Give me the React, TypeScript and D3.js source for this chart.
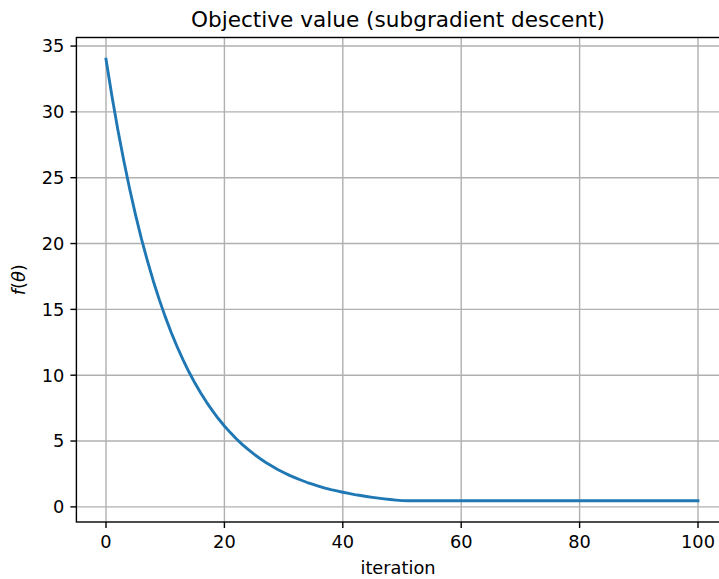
import React from "react";
import * as d3 from "d3";

// objective value per iteration
const objective: number[] = [
  34.0, 31.21, 28.65, 26.3, 24.14, 22.16, 20.34, 18.68, 17.14, 15.74,
  14.45, 13.26, 12.18, 11.18, 10.26, 9.42, 8.65, 7.94, 7.29, 6.69,
  6.14, 5.64, 5.17, 4.75, 4.36, 4.0, 3.67, 3.37, 3.1, 2.84,
  2.61, 2.39, 2.2, 2.02, 1.85, 1.7, 1.56, 1.43, 1.31, 1.21,
  1.11, 1.02, 0.93, 0.86, 0.79, 0.72, 0.66, 0.61, 0.56, 0.51,
  0.47, 0.46, 0.46, 0.46, 0.46, 0.46, 0.46, 0.46, 0.46, 0.46,
  0.46, 0.46, 0.46, 0.46, 0.46, 0.46, 0.46, 0.46, 0.46, 0.46,
  0.46, 0.46, 0.46, 0.46, 0.46, 0.46, 0.46, 0.46, 0.46, 0.46,
  0.46, 0.46, 0.46, 0.46, 0.46, 0.46, 0.46, 0.46, 0.46, 0.46,
  0.46, 0.46, 0.46, 0.46, 0.46, 0.46, 0.46, 0.46, 0.46, 0.46,
  0.46,
];
const xTicks = [0, 20, 40, 60, 80, 100];
const yTicks = [0, 5, 10, 15, 20, 25, 30, 35];
const title = "Objective value (subgradient descent)";
const xLabel = "iteration";

const W = 719;
const H = 579;
const font = "'DejaVu Sans', sans-serif";

export default function App() {
  const left = 76.4;
  const right = 727.6;
  const top = 37.5;
  const bottom = 522;

  const x = d3.scaleLinear().domain([-5, 105]).range([left, right]);
  const y = d3.scaleLinear().domain([-1.15, 35.65]).range([bottom, top]);

  const line = d3
    .line<number>()
    .x((_, i) => x(i))
    .y((d) => y(d));

  const grid = "#b0b0b0";
  const tickLen = 6;
  const labelSize = 17.8;

  return (
    <svg
      width={W}
      height={H}
      style={{ position: "absolute", left: 0, top: 0, background: "#fff" }}
      fontFamily={font}
    >
      <defs>
        <clipPath id="plot-clip">
          <rect x={left} y={top} width={right - left} height={bottom - top} />
        </clipPath>
      </defs>
      <rect x={0} y={0} width={W} height={H} fill="#fff" />

      {/* grid */}
      {xTicks.map((t) => (
        <line key={"gx" + t} x1={x(t)} x2={x(t)} y1={top} y2={bottom} stroke={grid} strokeWidth={1.4} />
      ))}
      {yTicks.map((t) => (
        <line key={"gy" + t} x1={left} x2={right} y1={y(t)} y2={y(t)} stroke={grid} strokeWidth={1.4} />
      ))}

      {/* data */}
      <path
        d={line(objective) || ""}
        fill="none"
        stroke="#1f77b4"
        strokeWidth={2.9}
        strokeLinejoin="round"
        strokeLinecap="square"
        clipPath="url(#plot-clip)"
      />

      {/* spines */}
      <rect x={left} y={top} width={right - left} height={bottom - top} fill="none" stroke="#000" strokeWidth={1.4} />

      {/* x ticks */}
      {xTicks.map((t) => (
        <g key={"tx" + t}>
          <line x1={x(t)} x2={x(t)} y1={bottom} y2={bottom + tickLen} stroke="#000" strokeWidth={1.4} />
          <text x={x(t)} y={bottom + tickLen + 6} dy="0.76em" textAnchor="middle" fontSize={labelSize} fill="#000">
            {t}
          </text>
        </g>
      ))}

      {/* y ticks */}
      {yTicks.map((t) => (
        <g key={"ty" + t}>
          <line x1={left - tickLen} x2={left} y1={y(t)} y2={y(t)} stroke="#000" strokeWidth={1.4} />
          <text x={left - tickLen - 6} y={y(t)} dy="0.36em" textAnchor="end" fontSize={labelSize} fill="#000">
            {t}
          </text>
        </g>
      ))}

      {/* labels */}
      <text x={(left + right) / 2 - 4} y={26.5} textAnchor="middle" fontSize={21.6} fill="#000">
        {title}
      </text>
      <text x={(left + right) / 2 - 4} y={574} textAnchor="middle" fontSize={labelSize} fill="#000">
        {xLabel}
      </text>
      <text
        transform={`translate(25,${(top + bottom) / 2}) rotate(-90)`}
        textAnchor="middle"
        fontSize={labelSize}
        fill="#000"
      >
        <tspan fontStyle="italic">f</tspan>
        <tspan>(</tspan>
        <tspan fontStyle="italic">θ</tspan>
        <tspan>)</tspan>
      </text>
    </svg>
  );
}
